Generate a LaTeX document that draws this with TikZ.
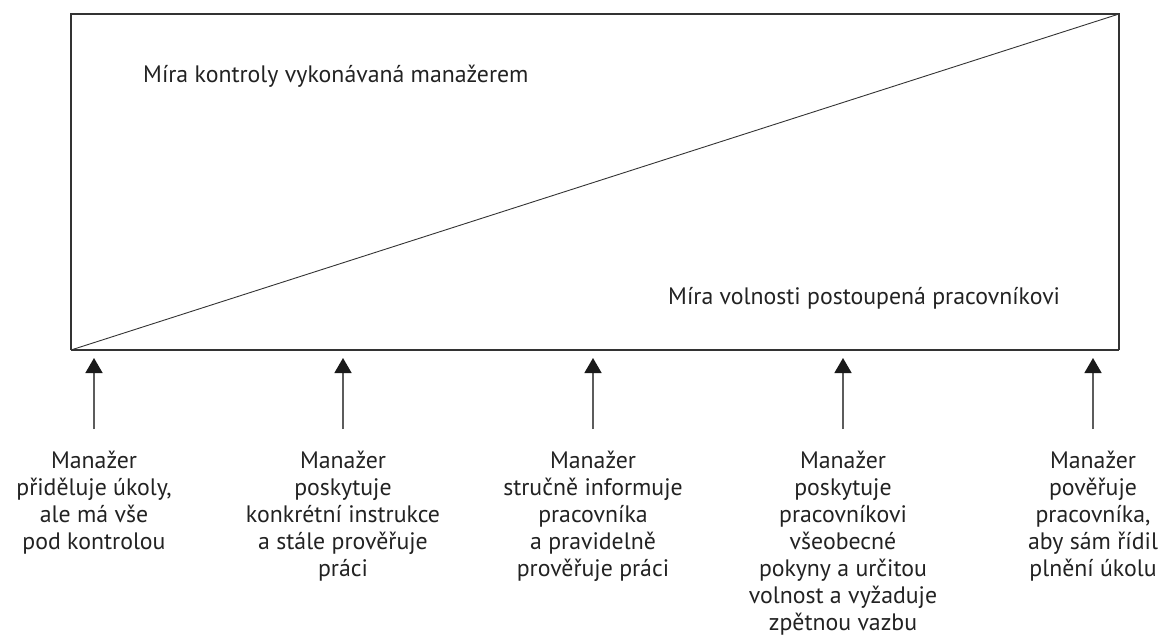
\documentclass[tikz,border=0pt]{standalone}
\usepackage{fontspec}
\setmainfont{PT Sans}
\usetikzlibrary{arrows.meta}
\definecolor{ln}{HTML}{333333}
\definecolor{tx}{HTML}{222222}
\definecolor{tip}{HTML}{1A1A1A}
\tikzset{
  frame/.style={draw=ln, line width=1.4pt},
  baseline/.style={draw=ln, line width=2.4pt},
  diag/.style={draw=ln, line width=0.9pt},
  uparrow/.style={draw=ln!80, line width=1.5pt, -{Triangle[width=17pt,length=15pt,color=tip]}},
  heading/.style={text=tx, font=\fontsize{23.8}{27}\selectfont, inner sep=0pt},
  caption/.style={text=tx, font=\fontsize{23.8}{27}\selectfont, align=center, anchor=north, inner sep=0pt},
}
\begin{document}
\begin{tikzpicture}[x=1pt,y=-1pt]
\useasboundingbox (0,0) rectangle (1164,644);
\coordinate (tl) at (71,14);
\coordinate (tr) at (1119,14);
\coordinate (bl) at (71,350);
\coordinate (br) at (1119,350);
\draw[frame] (bl) -- (tl) -- (tr) -- (br);
\draw[baseline] (bl) -- (br);
\draw[diag] (bl) -- (tr);
\node[heading, anchor=base west] (h1) at (143,83) {Míra kontroly vykonávaná manažerem};
\node[heading, anchor=base west] (h2) at (668,305) {Míra volnosti postoupená pracovníkovi};
\foreach \i/\x in {1/94,2/343,3/593,4/843,5/1093}{
  \coordinate (b\i) at (\x,429);
  \coordinate (t\i) at (\x,358);
  \draw[uparrow] (b\i) -- (t\i);
}
\node[caption] (l1) at (94,451) {Manažer\\přiděluje úkoly,\\ale má vše\\pod kontrolou};
\node[caption] (l2) at (343,451) {Manažer\\poskytuje\\konkrétní instrukce\\a stále prověřuje\\práci};
\node[caption] (l3) at (593,451) {Manažer\\stručně informuje\\pracovníka\\a pravidelně\\prověřuje práci};
\node[caption] (l4) at (843,451) {Manažer\\poskytuje\\pracovníkovi\\všeobecné\\pokyny a určitou\\volnost a vyžaduje\\zpětnou vazbu};
\node[caption] (l5) at (1093,451) {Manažer\\pověřuje\\pracovníka,\\aby sám řídil\\plnění úkolu};
\end{tikzpicture}
\end{document}
